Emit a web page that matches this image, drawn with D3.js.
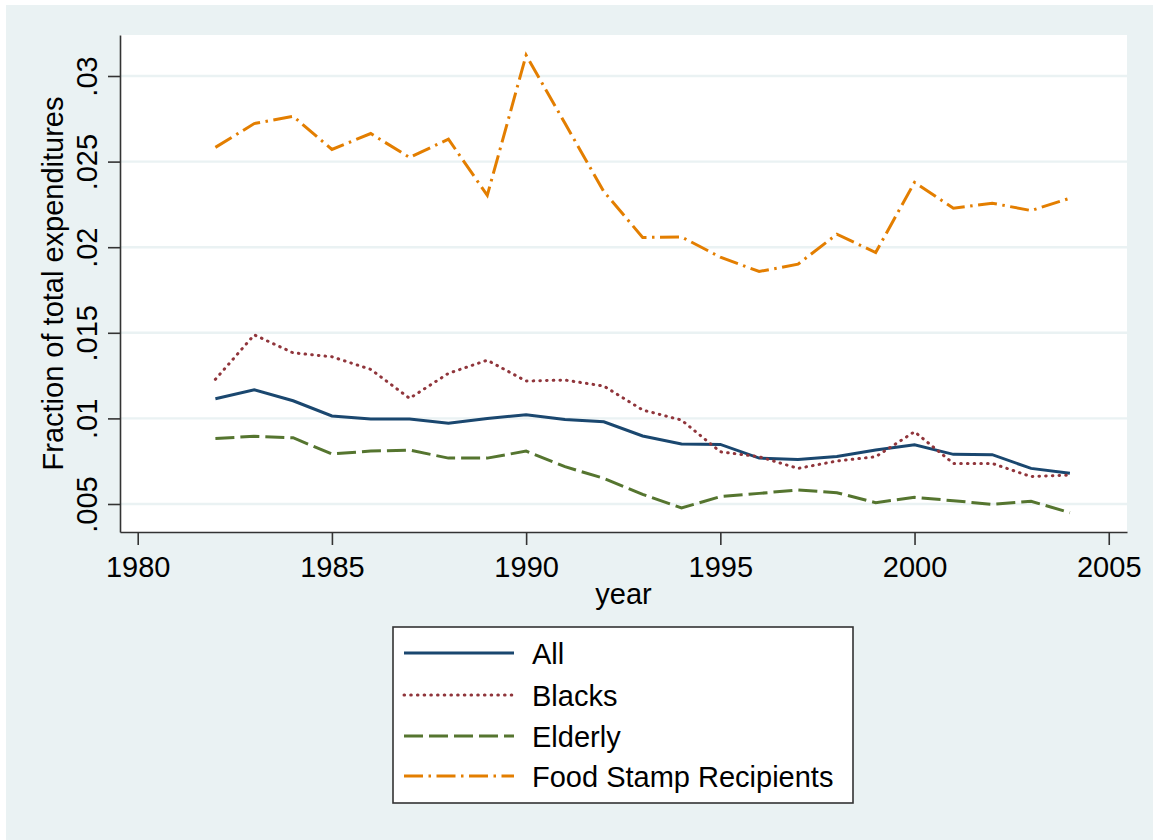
<!DOCTYPE html>
<html>
<head>
<meta charset="utf-8">
<script src="https://cdn.jsdelivr.net/npm/d3@7"></script>
<style>
  html, body { margin: 0; padding: 0; background: #ffffff; }
  svg { display: block; font-family: "Liberation Sans", Arial, Helvetica, sans-serif; }
</style>
</head>
<body>
<svg id="chart" width="1153" height="840"></svg>
<script>
// Survey years
const years = [1982, 1983, 1984, 1985, 1986, 1987, 1988, 1989, 1990, 1991, 1992, 1993,
               1994, 1995, 1996, 1997, 1998, 1999, 2000, 2001, 2002, 2003, 2004];

// Fraction of total expenditures, by group
const allHouseholds = [0.01115, 0.01167, 0.01103, 0.01014, 0.00996, 0.00996, 0.00971, 0.01000,
                       0.01021, 0.00994, 0.00980, 0.00897, 0.00850, 0.00848, 0.00768, 0.00760,
                       0.00778, 0.00815, 0.00846, 0.00790, 0.00788, 0.00708, 0.00679];
const blacks = [0.01228, 0.01488, 0.01383, 0.01360, 0.01286, 0.01117, 0.01263, 0.01340,
                0.01218, 0.01224, 0.01189, 0.01049, 0.00990, 0.00805, 0.00776, 0.00708,
                0.00751, 0.00776, 0.00922, 0.00737, 0.00737, 0.00660, 0.00669];
const elderly = [0.00883, 0.00895, 0.00887, 0.00792, 0.00809, 0.00815, 0.00768, 0.00768,
                 0.00809, 0.00718, 0.00650, 0.00556, 0.00477, 0.00543, 0.00562, 0.00582,
                 0.00566, 0.00508, 0.00539, 0.00519, 0.00498, 0.00516, 0.00449];
const foodStamp = [0.02583, 0.02722, 0.02765, 0.02571, 0.02664, 0.02524, 0.02631, 0.02303,
                   0.03122, 0.02724, 0.02325, 0.02057, 0.02060, 0.01942, 0.01858, 0.01901,
                   0.02076, 0.01969, 0.02379, 0.02228, 0.02257, 0.02214, 0.02286];

const seriesNames = ["All", "Blacks", "Elderly", "Food Stamp Recipients"];

// Axis ticks
const xTicks = [1980, 1985, 1990, 1995, 2000, 2005];
const yTicks = [0.005, 0.01, 0.015, 0.02, 0.025, 0.03];
const yTickLabels = [".005", ".01", ".015", ".02", ".025", ".03"];

// Styling
const styles = [
  { color: "#1a476f", dash: null,                cap: "butt"  },
  { color: "#90353b", dash: "0.6 6.1",           cap: "round" },
  { color: "#55752f", dash: "19 6",              cap: "butt"  },
  { color: "#e37e00", dash: "19 5.5 2.5 5.5",    cap: "butt"  }
];
const bgColor = "#eaf2f3";
const fontSize = 29;

const svg = d3.select("#chart");
const W = 1153, H = 840;
const plot = { left: 120, right: 1127, top: 35, bottom: 532 };

// Graph region background
svg.append("rect").attr("x", 0).attr("y", 0).attr("width", W).attr("height", H).attr("fill", "#ffffff");
svg.append("rect").attr("x", 6).attr("y", 5).attr("width", W - 6).attr("height", H - 5).attr("fill", bgColor);

// Plot region
svg.append("rect")
  .attr("x", plot.left).attr("y", plot.top)
  .attr("width", plot.right - plot.left).attr("height", plot.bottom - plot.top)
  .attr("fill", "#ffffff");

const x = d3.scaleLinear().domain([1979.544, 2005.47]).range([plot.left, plot.right]);
const y = d3.scaleLinear().domain([0.003364, 0.032395]).range([plot.bottom, plot.top]);

// Horizontal grid lines
svg.append("g").selectAll("line")
  .data(yTicks)
  .join("line")
  .attr("x1", plot.left).attr("x2", plot.right)
  .attr("y1", d => y(d)).attr("y2", d => y(d))
  .attr("stroke", bgColor).attr("stroke-width", 2.4);

// Series lines
const seriesData = [allHouseholds, blacks, elderly, foodStamp];
const line = d3.line().x(d => x(d[0])).y(d => y(d[1]));

const linesG = svg.append("g");
seriesData.forEach((vals, i) => {
  const pts = years.map((yr, j) => [yr, vals[j]]);
  linesG.append("path")
    .datum(pts)
    .attr("d", line)
    .attr("fill", "none")
    .attr("stroke", styles[i].color)
    .attr("stroke-width", 3)
    .attr("stroke-linecap", styles[i].cap)
    .attr("stroke-linejoin", "miter")
    .attr("stroke-dasharray", styles[i].dash);
});

// Y axis
const yAxis = d3.axisLeft(y)
  .tickValues(yTicks)
  .tickFormat((d, i) => yTickLabels[i])
  .tickSize(12)
  .tickSizeOuter(0);
const yg = svg.append("g").attr("transform", `translate(${plot.left},0)`).call(yAxis);
yg.select(".domain").attr("stroke", "#333").attr("stroke-width", 1.6);
yg.selectAll(".tick line").attr("stroke", "#333").attr("stroke-width", 1.6);
yg.selectAll(".tick text")
  .attr("x", null).attr("dy", null)
  .attr("transform", "translate(-23,0) rotate(-90)")
  .attr("text-anchor", "middle")
  .attr("fill", "#000")
  .style("font-size", fontSize + "px")
  .style("font-family", '"Liberation Sans", Arial, sans-serif');

// X axis
const xAxis = d3.axisBottom(x)
  .tickValues(xTicks)
  .tickFormat(d3.format("d"))
  .tickSize(13)
  .tickSizeOuter(0);
const xg = svg.append("g").attr("transform", `translate(0,${plot.bottom})`).call(xAxis);
xg.select(".domain").attr("stroke", "#333").attr("stroke-width", 1.6);
xg.selectAll(".tick line").attr("stroke", "#333").attr("stroke-width", 1.6);
xg.selectAll(".tick text")
  .attr("y", 45).attr("dy", null)
  .attr("fill", "#000")
  .style("font-size", fontSize + "px")
  .style("font-family", '"Liberation Sans", Arial, sans-serif');

// Axis titles
svg.append("text")
  .attr("transform", `translate(63,${(plot.top + plot.bottom) / 2}) rotate(-90)`)
  .attr("text-anchor", "middle")
  .style("font-size", fontSize + "px")
  .text("Fraction of total expenditures");

svg.append("text")
  .attr("x", (plot.left + plot.right) / 2)
  .attr("y", 604)
  .attr("text-anchor", "middle")
  .style("font-size", fontSize + "px")
  .text("year");

// Legend
const legend = svg.append("g");
legend.append("rect")
  .attr("x", 393).attr("y", 627).attr("width", 460).attr("height", 176)
  .attr("fill", "#ffffff").attr("stroke", "#333").attr("stroke-width", 1.6);

const legendRows = [653, 695, 736, 776];
seriesNames.forEach((name, i) => {
  legend.append("line")
    .attr("x1", 404).attr("x2", 514)
    .attr("y1", legendRows[i]).attr("y2", legendRows[i])
    .attr("stroke", styles[i].color)
    .attr("stroke-width", 3)
    .attr("stroke-linecap", styles[i].cap)
    .attr("stroke-dasharray", styles[i].dash);
  legend.append("text")
    .attr("x", 532).attr("y", legendRows[i] + 11)
    .style("font-size", fontSize + "px")
    .text(name);
});
</script>
</body>
</html>
